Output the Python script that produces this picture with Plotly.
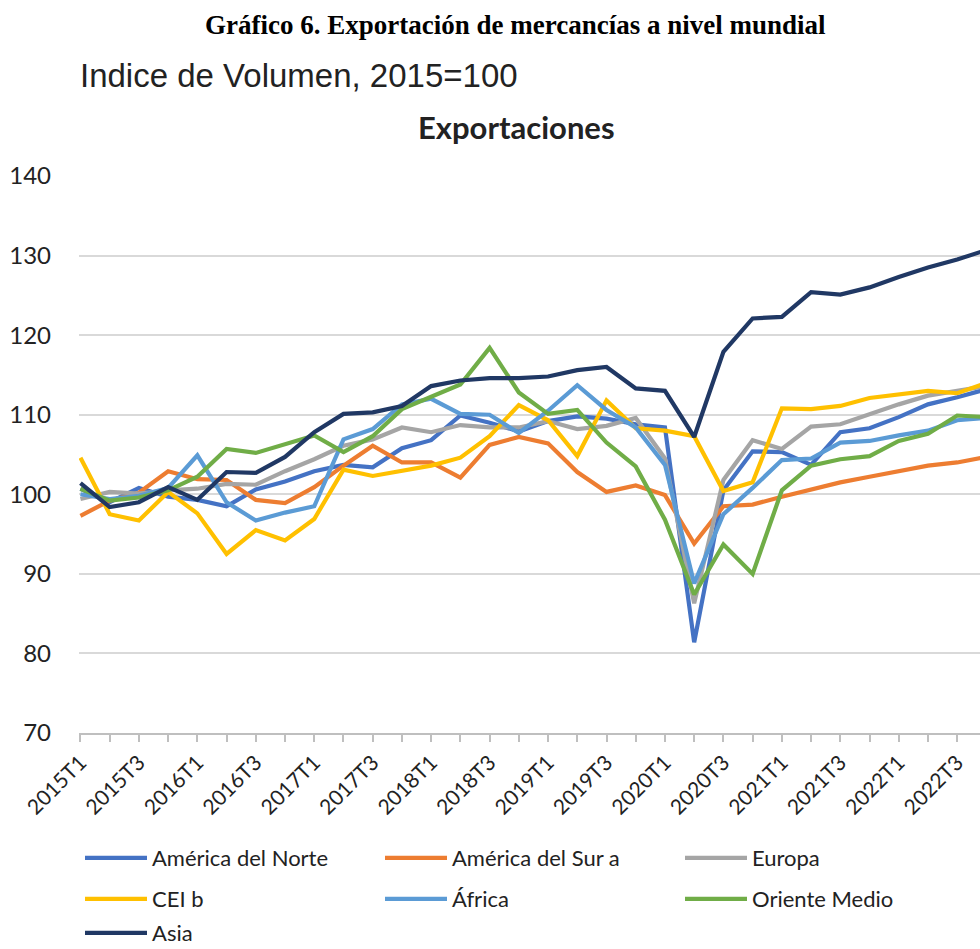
import plotly.graph_objects as go

quarters = [f"{y}T{q}" for y in range(2015, 2023) for q in range(1, 5)]  # 2015T1..2022T4

america_norte = [100.7, 99.0, 100.8, 99.7, 99.3, 98.5, 100.6, 101.6, 102.9, 103.7, 103.4, 105.8, 106.8, 109.9, 109.0, 107.9,
                 109.2, 109.8, 109.5, 108.8, 108.4, 81.4, 100.5, 105.4, 105.3, 103.7, 107.8, 108.3, 109.7, 111.3, 112.2, 113.2]
america_sur = [97.3, 99.2, 100.2, 102.9, 101.9, 101.8, 99.3, 98.9, 100.9, 103.6, 106.1, 104.0, 104.0, 102.1, 106.2, 107.2,
               106.4, 102.8, 100.3, 101.1, 99.9, 93.8, 98.5, 98.7, 99.7, 100.6, 101.5, 102.2, 102.9, 103.6, 104.0, 104.7]
europa = [99.4, 100.3, 100.1, 100.5, 100.7, 101.3, 101.2, 102.9, 104.4, 106.1, 106.9, 108.4, 107.8, 108.7, 108.4, 108.4,
          109.2, 108.2, 108.6, 109.6, 104.5, 86.3, 101.8, 106.8, 105.7, 108.5, 108.8, 110.1, 111.3, 112.4, 113.0, 113.6]
cei = [104.6, 97.5, 96.7, 100.3, 97.6, 92.5, 95.5, 94.2, 96.9, 103.1, 102.3, 103.0, 103.6, 104.6, 107.3, 111.2,
       109.3, 104.8, 111.8, 108.3, 108.0, 107.3, 100.4, 101.5, 110.8, 110.7, 111.1, 112.1, 112.6, 113.0, 112.7, 114.0]
africa = [100.0, 99.4, 99.8, 100.8, 104.9, 99.0, 96.7, 97.7, 98.5, 106.9, 108.2, 111.3, 112.0, 110.1, 110.0, 107.7,
          110.5, 113.7, 110.6, 108.4, 103.7, 88.8, 97.5, 100.8, 104.3, 104.5, 106.5, 106.7, 107.4, 108.0, 109.3, 109.6]
oriente_medio = [100.7, 99.2, 99.6, 100.5, 102.2, 105.7, 105.2, 106.3, 107.4, 105.3, 107.3, 110.7, 112.3, 113.8, 118.4, 112.8,
                 110.1, 110.6, 106.5, 103.5, 96.8, 87.4, 93.7, 90.0, 100.5, 103.6, 104.4, 104.8, 106.7, 107.6, 109.9, 109.7]
asia = [101.4, 98.4, 99.0, 100.9, 99.3, 102.8, 102.7, 104.7, 107.8, 110.1, 110.3, 111.1, 113.6, 114.3, 114.6, 114.6,
        114.8, 115.6, 116.0, 113.3, 113.0, 107.2, 117.9, 122.1, 122.3, 125.4, 125.1, 126.0, 127.3, 128.5, 129.5, 130.7]

series_names = ["América del Norte", "América del Sur a", "Europa", "CEI b", "África", "Oriente Medio", "Asia"]
series_values = [america_norte, america_sur, europa, cei, africa, oriente_medio, asia]
series_colors = ["#4472C4", "#ED7D31", "#A5A5A5", "#FFC000", "#5B9BD5", "#70AD47", "#203864"]
legend_ids = ["legend", "legend", "legend", "legend2", "legend2", "legend2", "legend3"]

y_ticks = [70, 80, 90, 100, 110, 120, 130, 140]
x_ticktext = [q if i % 2 == 0 else "" for i, q in enumerate(quarters)]

W, H = 980, 949
L, R, T, B = 79, 0, 176, 216
ph = H - T - B
pw = W - L - R


def py(pix):  # pixel y -> paper y
    return (H - B - pix) / ph


def px(pix):
    return (pix - L) / pw


fig = go.Figure()
for name, vals, col, lg in zip(series_names, series_values, series_colors, legend_ids):
    fig.add_trace(go.Scatter(x=quarters, y=vals, mode="lines", name=name,
                             line=dict(color=col, width=4.2), legend=lg))

legend_common = dict(orientation="h", xanchor="left", yanchor="middle", x=px(80),
                     entrywidth=223, entrywidthmode="pixels", itemwidth=62,
                     font=dict(family="Lato, Open Sans, sans-serif", size=22, color="#222222"),
                     bgcolor="rgba(0,0,0,0)", traceorder="normal")

fig.update_layout(
    width=W, height=H,
    margin=dict(l=L, r=R, t=T, b=B, pad=0, autoexpand=False),
    paper_bgcolor="white", plot_bgcolor="white",
    showlegend=True,
    legend=dict(legend_common, y=py(858)),
    legend2=dict(legend_common, y=py(899)),
    legend3=dict(legend_common, y=py(933)),
    xaxis=dict(type="category", range=[-0.05, 30.78], automargin=False,
               tickmode="array", tickvals=quarters, ticktext=x_ticktext,
               tickangle=-45, ticks="outside", ticklen=7, tickcolor="#BFBFBF", tickwidth=1.5,
               showline=True, linecolor="#BFBFBF", linewidth=2, showgrid=False,
               tickfont=dict(family="Lato, Open Sans, sans-serif", size=21, color="#222222")),
    yaxis=dict(range=[70, 140], tickvals=y_ticks, showgrid=True, gridcolor="#D9D9D9", gridwidth=2,
               automargin=False,
               zeroline=False, showline=False, ticks="", ticklabelstandoff=27,
               tickfont=dict(family="Lato, Open Sans, sans-serif", size=24, color="#222222")),
    annotations=[
        dict(text="<b>Gráfico 6. Exportación de mercancías a nivel mundial</b>", xref="paper", yref="paper",
             x=px(515), y=py(25), xanchor="center", yanchor="middle", showarrow=False,
             font=dict(family="Liberation Serif, Times New Roman, serif", size=27, color="black")),
        dict(text="Indice de Volumen, 2015=100", xref="paper", yref="paper",
             x=px(78), y=py(75), xanchor="left", yanchor="middle", showarrow=False,
             font=dict(family="Liberation Sans, Arial, sans-serif", size=33, color="#222222")),
        dict(text="<b>Exportaciones</b>", xref="paper", yref="paper",
             x=px(516), y=py(127), xanchor="center", yanchor="middle", showarrow=False,
             font=dict(family="Lato, Open Sans, sans-serif", size=31, color="#222222")),
    ],
)

fig.write_html("out.html", config={"displayModeBar": False},
               post_script="document.body.style.margin='0px';document.body.style.overflow='hidden';")
